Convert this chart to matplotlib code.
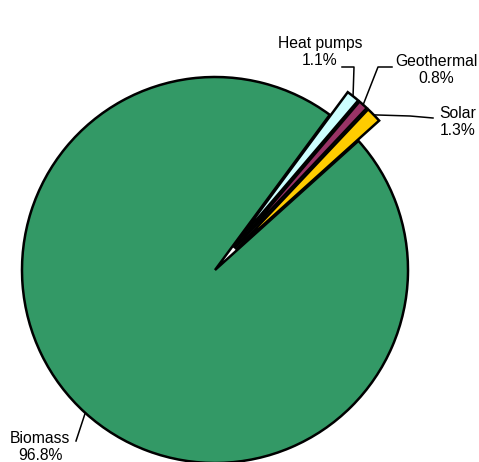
import numpy as np
import matplotlib.pyplot as plt

# shares of renewable heat
labels = ['Solar', 'Geothermal', 'Heat pumps', 'Biomass']
shares = [1.3, 0.8, 1.1, 96.8]
colors = ['#FFCC00', '#993366', '#CCFFFF', '#339966']
explode = [0.15, 0.15, 0.15, 0.0]

W, H = 479, 462
CX, CY, R = 215, 270, 193


def px(x, y):
    # pixel position -> data units (pie radius = 1)
    return (x - CX) / R, (CY - y) / R


fig = plt.figure(figsize=(W / 100, H / 100), dpi=100)
ax = fig.add_axes([0, 0, 1, 1])
plt.rcParams['font.family'] = ['Liberation Sans', 'DejaVu Sans']

wedges, _ = ax.pie(shares, colors=colors, explode=explode, startangle=42,
                   counterclock=True, radius=1,
                   wedgeprops=dict(edgecolor='black', linewidth=1.8))

# label text position, elbow and end of leader line (pixels)
txt_pos = {'Solar': (458, 122), 'Geothermal': (436, 70),
           'Heat pumps': (320, 52), 'Biomass': (40, 447)}
leader = {'Solar': [(410, 116), (433, 118)],
          'Geothermal': [(378, 67), (392, 67)],
          'Heat pumps': [(354, 67), (342, 67)],
          'Biomass': [(76, 441)]}

for w, lab, val in zip(wedges, labels, shares):
    mid = np.deg2rad((w.theta1 + w.theta2) / 2)
    cx, cy = w.center
    ax_, ay_ = cx + w.r * np.cos(mid), cy + w.r * np.sin(mid)
    pts = [(ax_, ay_)] + [px(*p) for p in leader[lab]]
    ax.plot([p[0] for p in pts], [p[1] for p in pts], color='black', lw=1.1)
    tx, ty = px(*txt_pos[lab])
    ax.text(tx, ty, f'{lab}\n{val:.1f}%', ha='center', va='center',
            fontsize=11.3, linespacing=1.2)

ax.set_xlim(-CX / R, (W - CX) / R)
ax.set_ylim(-(H - CY) / R, CY / R)
ax.set_aspect('auto')
ax.axis('off')

fig.savefig('out.png', dpi=100)
